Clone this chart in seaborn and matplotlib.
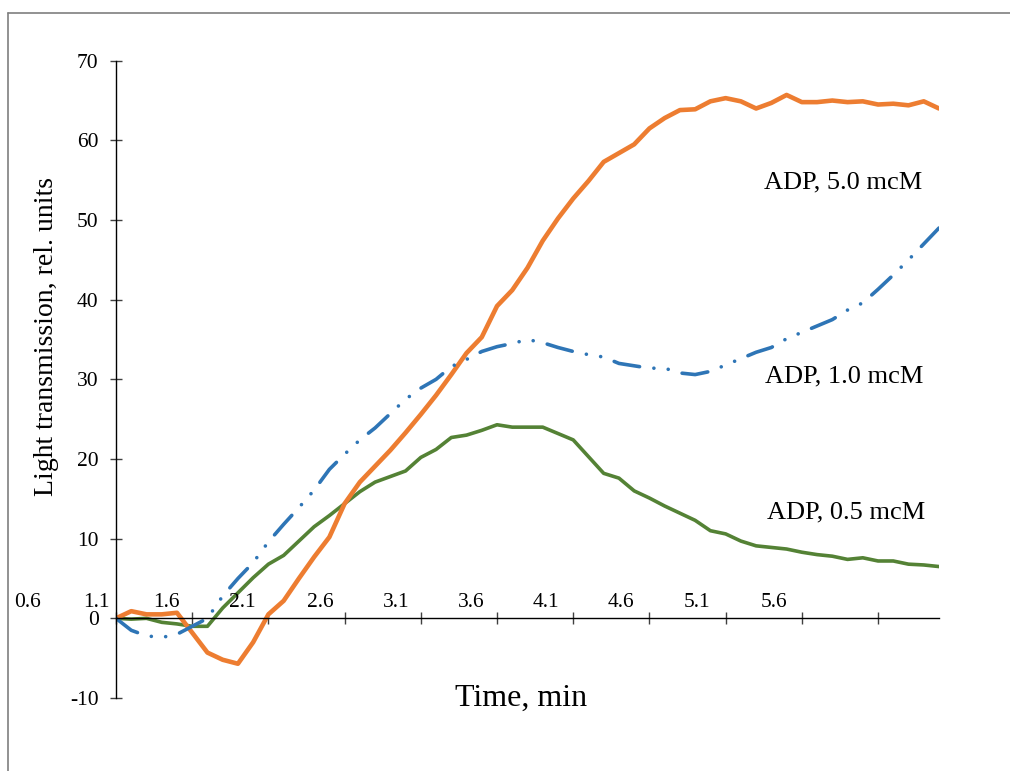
import numpy as np
import pandas as pd
import seaborn as sns
import matplotlib.pyplot as plt
from matplotlib.lines import Line2D

# time, min (one point every 0.1 min)
time = [1.1, 1.2, 1.3, 1.4, 1.5, 1.6, 1.7, 1.8, 1.9, 2.0,
        2.1, 2.2, 2.3, 2.4, 2.5, 2.6, 2.7, 2.8, 2.9, 3.0,
        3.1, 3.2, 3.3, 3.4, 3.5, 3.6, 3.7, 3.8, 3.9, 4.0,
        4.1, 4.2, 4.3, 4.4, 4.5, 4.6, 4.7, 4.8, 4.9, 5.0,
        5.1, 5.2, 5.3, 5.4, 5.5, 5.6, 5.7, 5.8, 5.9, 6.0,
        6.1, 6.2, 6.3, 6.4, 6.5]

adp_50 = [0, 0.9, 0.5, 0.5, 0.7, -1.8, -4.3, -5.2, -5.7, -3.0,
          0.5, 2.2, 5.0, 7.7, 10.2, 14.4, 17.1, 19.1, 21.1, 23.3,
          25.6, 28.0, 30.6, 33.3, 35.3, 39.2, 41.2, 44.0, 47.4, 50.2,
          52.7, 54.9, 57.3, 58.4, 59.5, 61.5, 62.8, 63.8, 63.9, 64.9,
          65.3, 64.9, 64.0, 64.7, 65.7, 64.8, 64.8, 65.0, 64.8, 64.9,
          64.5, 64.6, 64.4, 64.9, 64.0]

adp_10 = [0, -1.5, -2.2, -2.4, -2.0, -1.0, 0, 2.8, 5.0, 7.0,
          9.6, 11.8, 13.9, 16.1, 18.7, 20.6, 22.4, 23.9, 25.7, 27.5,
          28.9, 30.0, 31.6, 32.5, 33.5, 34.1, 34.5, 35.0, 34.6, 34.0,
          33.5, 33.1, 32.8, 32.0, 31.7, 31.4, 31.4, 30.8, 30.6, 31.0,
          31.8, 32.6, 33.4, 34.0, 35.1, 35.9, 36.7, 37.5, 38.7, 39.6,
          41.3, 43.1, 45.0, 47.0, 49.0]

adp_05 = [0, -0.1, 0, -0.5, -0.7, -1.0, -1.0, 1.3, 3.2, 5.1,
          6.8, 7.9, 9.7, 11.5, 12.9, 14.4, 15.9, 17.1, 17.8, 18.5,
          20.2, 21.2, 22.7, 23.0, 23.6, 24.3, 24.0, 24.0, 24.0, 23.2,
          22.4, 20.3, 18.2, 17.6, 16.0, 15.1, 14.1, 13.2, 12.3, 11.0,
          10.6, 9.7, 9.1, 8.9, 8.7, 8.3, 8.0, 7.8, 7.4, 7.6,
          7.2, 7.2, 6.8, 6.7, 6.5]

tick_labels = ['0.6', '1.1', '1.6', '2.1', '2.6', '3.1', '3.6', '4.1', '4.6', '5.1', '5.6']
tick_pos = [1.1, 1.6, 2.1, 2.6, 3.1, 3.6, 4.1, 4.6, 5.1, 5.6, 6.1]
label_pos = [0.52, 0.97, 1.43, 1.93, 2.44, 2.94, 3.43, 3.92, 4.41, 4.91, 5.42]

df = pd.DataFrame({'time': time, 'a50': adp_50, 'a10': adp_10, 'a05': adp_05})

sns.set_theme(style='white')
plt.rcParams['font.family'] = ['Liberation Serif', 'DejaVu Serif']
plt.rcParams['axes.unicode_minus'] = False

fig = plt.figure(figsize=(10.1, 7.71), dpi=100)
ax = fig.add_axes([116/1010, 1-698/771, 823/1010, 637.3/771])

sns.lineplot(data=df, x='time', y='a05', ax=ax, color='#548235', linewidth=2.6,
             solid_capstyle='round', solid_joinstyle='round')
sns.lineplot(data=df, x='time', y='a50', ax=ax, color='#ED7D31', linewidth=3.3,
             solid_capstyle='round', solid_joinstyle='round')
sns.lineplot(data=df, x='time', y='a10', ax=ax, color='#2E75B6', linewidth=2.6,
             linestyle=(0, (7.2, 4, 0.01, 4, 0.01, 4)), dash_capstyle='round',
             dash_joinstyle='round')

ax.set_xlim(1.1, 6.5)
ax.set_ylim(-10, 70)
ax.set_yticks(range(-10, 71, 10))
ax.set_xticks(tick_pos)
ax.set_xticklabels([])

for s in ['top', 'right']:
    ax.spines[s].set_visible(False)
ax.spines['bottom'].set_position(('data', 0))
for s in ['left', 'bottom']:
    ax.spines[s].set_color('black')
    ax.spines[s].set_linewidth(1.0)

ax.tick_params(axis='x', bottom=True, direction='inout', length=9, width=1, color='#404040')
ax.tick_params(axis='y', left=True, direction='inout', length=9, width=1, color='#404040',
               labelsize=15.5, pad=8, labelcolor='black')

for lab, xp in zip(tick_labels, label_pos):
    ax.text(xp, 2.0, lab, ha='center', va='center', fontsize=15.5, color='black', clip_on=False)

ax.set_xlabel('Time, min', fontsize=23, color='black')
ax.xaxis.label.set_va('center')
ax.xaxis.set_label_coords(0.492, 0.0)
ax.set_ylabel('Light transmission, rel. units', fontsize=20, color='black')
ax.yaxis.label.set_va('center')
ax.yaxis.set_label_coords(-0.084, 0.568)

ax.text(5.35, 54.7, 'ADP, 5.0 mcM', fontsize=19, ha='left', va='center', color='black')
ax.text(5.36, 30.4, 'ADP, 1.0 mcM', fontsize=19, ha='left', va='center', color='black')
ax.text(5.37, 13.3, 'ADP, 0.5 mcM', fontsize=19, ha='left', va='center', color='black')

# outer frame (left and top edges visible)
fx, fy = 8/1010, 1-13/771
fig.add_artist(Line2D([fx, fx], [0, fy], color='#7f7f7f', linewidth=1.2))
fig.add_artist(Line2D([fx, 1], [fy, fy], color='#7f7f7f', linewidth=1.2))

fig.savefig('out.png', dpi=100)
plt.close('all')
